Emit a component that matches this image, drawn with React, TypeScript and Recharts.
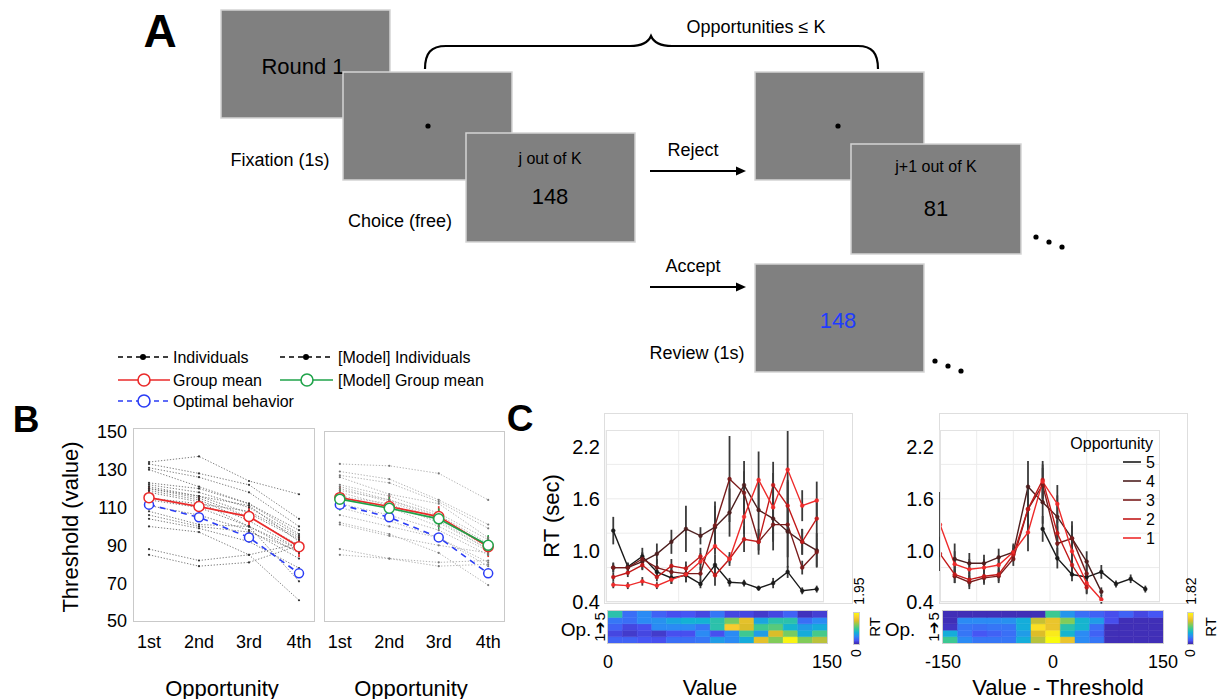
import React from 'react';
import { LineChart, Line, XAxis, YAxis, ErrorBar, CartesianGrid, ComposedChart, ReferenceArea } from 'recharts';

const FONT = '"Liberation Sans", Arial, Helvetica, sans-serif';

// ---------------- Panel B data ----------------
const opportunityPositions = [1, 2, 3, 4];
const opportunityLabels = ['1st', '2nd', '3rd', '4th'];
const thresholdTicks = [50, 70, 90, 110, 130, 150];

const individualThresholds: number[][] = [
  [134, 137, 124, 117],
  [133, 128, 122, 104],
  [131, 126, 118, 100],
  [130, 121, 112, 98],
  [123, 120, 112, 96],
  [122, 118, 110, 95],
  [121, 116, 107, 93],
  [120, 115, 105, 90],
  [119, 114, 103, 88],
  [118, 113, 100, 86],
  [114, 110, 100, 88],
  [111, 106, 98, 83],
  [108, 101, 100, 71],
  [106, 100, 97, 87],
  [104, 99, 92, 78],
  [100, 97, 85, 61],
  [88, 82, 85, 91],
  [85, 79, 81, 90],
  [120, 116, 111, 92],
  [115, 112, 108, 94],
];
const groupMean = [115.2, 110.5, 105.2, 89.3];
const groupMeanErr = [6, 6, 5.5, 5.5];
const optimalThreshold = [111.5, 104.8, 94.2, 75.2];

const modelIndividualThresholds: number[][] = [
  [133, 132, 128, 114],
  [129, 125, 114, 101],
  [127, 123, 113, 99],
  [126, 117, 112, 94],
  [122, 116, 107, 93],
  [121, 114, 106, 91],
  [120, 113, 104, 89],
  [118, 111, 103, 88],
  [115, 110, 100, 87],
  [112, 106, 98, 85],
  [110, 103, 94, 81],
  [106, 100, 94, 79],
  [102, 96, 86, 69],
  [101, 95, 90, 86],
  [88, 83, 81, 82],
  [85, 83, 79, 80],
  [119, 114, 105, 90],
  [116, 112, 102, 88],
];
const modelGroupMean = [114.4, 109.6, 104.0, 90.0];
const modelGroupMeanErr = [6, 6, 5.5, 5.5];

// ---------------- Panel C data (RT by value) ----------------
const rtTicks = [0.4, 1.0, 1.6, 2.2];
const rtGrid = [0.4, 0.6, 0.8, 1.0, 1.2, 1.4, 1.6, 1.8, 2.0, 2.2, 2.4];
const valueBins = [5, 15, 25, 35, 45, 55, 65, 75, 85, 95, 105, 115, 125, 135, 145];
const rtValueOpp5 = [1.23, 0.81, 0.93, 0.75, 0.68, 0.71, 0.61, 0.83, 0.63, 0.62, 0.56, 0.62, 0.75, 0.53, 0.55];
const errValueOpp5 = [0.16, 0.05, 0.1, 0.08, 0.07, 0.08, 0.05, 0.12, 0.05, 0.04, 0.03, 0.06, 0.07, 0.04, 0.04];
const rtValueOpp4 = [0.8, 0.8, 0.87, 0.96, 1.1, 1.25, 1.17, 1.27, 1.44, 1.76, 1.47, 1.37, 1.22, 1.1, 1.0];
const errValueOpp4 = [0.05, 0.05, 0.1, 0.12, 0.14, 0.27, 0.1, 0.25, 0.28, 0.28, 0.3, 0.25, 0.3, 0.15, 0.2];
const rtValueOpp3 = [0.8, 0.8, 0.9, 0.8, 0.75, 0.73, 0.73, 1.29, 1.83, 1.67, 1.1, 1.3, 1.3, 0.8, 0.98];
const errValueOpp3 = [0.06, 0.05, 0.08, 0.1, 0.08, 0.1, 0.08, 0.28, 0.5, 0.25, 0.15, 0.3, 0.5, 0.08, 0.17];
const rtValueOpp2 = [0.69, 0.74, 0.83, 0.69, 0.82, 0.79, 0.93, 0.71, 0.9, 1.13, 1.1, 1.76, 1.52, 1.1, 1.37];
const errValueOpp2 = [0.05, 0.05, 0.05, 0.05, 0.08, 0.08, 0.1, 0.12, 0.08, 0.15, 0.1, 0.27, 0.3, 0.15, 0.22];
const rtValueOpp1 = [0.6, 0.59, 0.64, 0.59, 0.66, 0.72, 0.87, 1.05, 0.9, 1.39, 1.82, 1.5, 1.94, 1.52, 1.58];
const errValueOpp1 = [0.04, 0.04, 0.05, 0.04, 0.05, 0.06, 0.1, 0.1, 0.05, 0.2, 0.33, 0.4, 0.45, 0.18, 0.22];

// ---------------- Panel C data (RT by value - threshold) ----------------
const diffBins = [-150, -130, -110, -90, -70, -50, -30, -10, 10, 30, 50, 70, 90, 110, 130];
const N = null;
const rtDiffOpp5 = [N, N, N, N, N, N, N, 1.25, 0.91, 0.72, 0.69, 0.75, 0.61, 0.67, 0.55];
const errDiffOpp5 = [N, N, N, N, N, N, N, 0.15, 0.12, 0.08, 0.06, 0.08, 0.04, 0.05, 0.04];
const rtDiffOpp4 = [N, 0.9, 0.85, 0.85, 0.92, 0.98, 1.74, 1.56, 1.39, 1.14, 0.87, 0.52, N, N, N];
const errDiffOpp4 = [N, 0.18, 0.12, 0.1, 0.1, 0.08, 0.3, 0.25, 0.25, 0.2, 0.12, 0.05, N, N, N];
const rtDiffOpp3 = [N, 0.7, 0.63, 0.68, 0.7, 0.9, 1.48, 1.76, 1.08, 1.14, 0.73, N, N, N, N];
const errDiffOpp3 = [N, 0.08, 0.08, 0.08, 0.08, 0.08, 0.2, 0.2, 0.2, 0.15, 0.1, N, N, N, N];
const rtDiffOpp2 = [0.96, 0.72, 0.66, 0.7, 0.72, 0.95, 1.48, 1.82, 1.2, 0.83, 0.57, N, N, N, N];
const errDiffOpp2 = [0.2, 0.1, 0.08, 0.08, 0.08, 0.08, 0.25, 0.22, 0.15, 0.12, 0.08, N, N, N, N];
const rtDiffOpp1 = [1.3, 0.84, 0.78, 0.8, 0.83, 0.98, 1.21, 1.8, 1.54, 0.99, 0.62, 0.43, N, N, N];
const errDiffOpp1 = [0.38, 0.15, 0.12, 0.1, 0.1, 0.1, 0.22, 0.2, 0.22, 0.2, 0.12, 0.05, N, N, N];

// ---------------- Heatmaps (mean RT, rows = opportunity 1..5) ----------------
const valueEdges = [0, 10, 20, 30, 40, 50, 60, 70, 80, 90, 100, 110, 120, 130, 140, 150];
const heatValueMax = 1.95;
const heatValueOpp1 = [0.29, 0.29, 0.23, 0.2, 0.35, 0.35, 0.39, 0.59, 0.49, 0.68, 1.52, 1.21, 1.91, 1.21, 1.37];
const heatValueOpp2 = [0.16, 0.1, 0.16, 0.1, 0.2, 0.2, 0.49, 0.2, 0.49, 0.98, 0.59, 1.46, 1.17, 0.68, 1.01];
const heatValueOpp3 = [0.29, 0.16, 0.2, 0.49, 0.49, 0.49, 0.39, 0.88, 1.66, 1.46, 0.98, 1.07, 0.74, 0.59, 0.68];
const heatValueOpp4 = [0.39, 0.35, 0.49, 0.53, 0.64, 0.72, 0.72, 0.88, 1.17, 1.52, 0.64, 0.88, 0.88, 0.35, 0.49];
const heatValueOpp5 = [0.88, 0.35, 0.49, 0.29, 0.2, 0.23, 0.16, 0.39, 0.16, 0.16, 0.1, 0.16, 0.29, 0.06, 0.12];

const diffEdges = [-150, -130, -110, -90, -70, -50, -30, -10, 10, 30, 50, 70, 90, 110, 130, 150];
const heatDiffMax = 1.82;
const heatDiffOpp1 = [0.91, 0.46, 0.36, 0.36, 0.36, 0.64, 1.27, 1.82, 1.46, 0.46, 0.36, 0.04, 0.04, 0.04, 0.04];
const heatDiffOpp2 = [0.64, 0.36, 0.22, 0.27, 0.33, 0.55, 1.37, 1.73, 0.69, 0.46, 0.27, 0.04, 0.04, 0.04, 0.04];
const heatDiffOpp3 = [0.07, 0.36, 0.33, 0.36, 0.36, 0.64, 1.67, 1.46, 0.82, 0.69, 0.33, 0.04, 0.04, 0.04, 0.04];
const heatDiffOpp4 = [0.04, 0.46, 0.46, 0.46, 0.49, 0.64, 1.31, 1.46, 1.13, 0.69, 0.55, 0.18, 0.04, 0.04, 0.04];
const heatDiffOpp5 = [0.04, 0.04, 0.04, 0.04, 0.04, 0.04, 0.04, 0.91, 0.51, 0.33, 0.27, 0.18, 0.27, 0.15, 0.22];

const oppColors = ['#ee2b2b', '#c21a1a', '#7a1c1c', '#4d1f1f', '#1a1a1a']; // opportunity 1..5

// ---------------- helpers ----------------
type Pt = { x: number; y: number; e: number };
const toPts = (xs: number[], ys: (number | null)[], es?: (number | null)[]): Pt[] =>
  xs
    .map((x, i) => ({ x, y: ys[i] as number, e: es ? ((es[i] ?? 0) as number) : 0 }))
    .filter((p) => p.y !== null && p.y !== undefined);

const parulaStops: [number, number[]][] = [
  [0, [62, 38, 168]],
  [0.11, [72, 82, 244]],
  [0.24, [46, 135, 247]],
  [0.365, [18, 177, 214]],
  [0.49, [55, 200, 151]],
  [0.62, [129, 204, 89]],
  [0.75, [220, 189, 41]],
  [0.87, [252, 207, 48]],
  [1, [249, 251, 14]],
];
const parula = (t: number) => {
  const v = Math.max(0, Math.min(1, t));
  for (let i = 1; i < parulaStops.length; i++) {
    const [t1, c1] = parulaStops[i];
    const [t0, c0] = parulaStops[i - 1];
    if (v <= t1) {
      const f = (v - t0) / (t1 - t0);
      const c = c0.map((a, k) => Math.round(a + (c1[k] - a) * f));
      return `rgb(${c[0]},${c[1]},${c[2]})`;
    }
  }
  return 'rgb(249,251,14)';
};
const parulaGradient = `linear-gradient(to top, ${parulaStops
  .map(([t, c]) => `rgb(${c[0]},${c[1]},${c[2]}) ${t * 100}%`)
  .join(', ')})`;

const tickStyle = (size: number) => ({ fontSize: size, fill: '#000', fontFamily: FONT });

// ---------------- Panel B chart ----------------
function ThresholdChart(props: {
  plotLeft: number;
  plotTop: number;
  plotW: number;
  plotH: number;
  yDomain: [number, number];
  xDomain: [number, number];
  showYLabels: boolean;
  individuals: number[][];
  indColor: string;
  indDot: string;
  model: boolean;
}) {
  const yw = 60;
  const xh = 40;
  const pad = 12;
  const { plotLeft, plotTop, plotW, plotH } = props;
  return (
    <div style={{ position: 'absolute', left: plotLeft - yw, top: plotTop - pad }}>
      <LineChart width={plotW + yw + pad} height={plotH + xh + pad} margin={{ top: pad, right: pad, bottom: 0, left: 0 }}>
        <XAxis
          type="number"
          dataKey="x"
          domain={props.xDomain}
          ticks={opportunityPositions}
          interval={0}
          tickFormatter={(v: number) => opportunityLabels[v - 1]}
          allowDataOverflow
          height={xh}
          tickLine={false}
          axisLine={false}
          tickSize={0}
          tickMargin={13}
          tick={tickStyle(18)}
        />
        <YAxis
          type="number"
          domain={props.yDomain}
          ticks={thresholdTicks}
          allowDataOverflow
          width={yw}
          tickLine={false}
          axisLine={false}
          tickSize={0}
          tickMargin={6}
          tick={props.showYLabels ? tickStyle(18) : false}
        />
        {props.individuals.map((row, i) => (
          <Line
            key={'ind' + i}
            data={toPts(opportunityPositions, row)}
            dataKey="y"
            stroke={props.indColor}
            strokeWidth={0.9}
            strokeDasharray="1.3 1.7"
            dot={{ r: 1.1, fill: props.indDot, stroke: 'none' }}
            isAnimationActive={false}
          />
        ))}
        <Line
          data={toPts(opportunityPositions, optimalThreshold)}
          dataKey="y"
          stroke="#2a3cf5"
          strokeWidth={1.6}
          strokeDasharray="6 5"
          dot={{ r: 4.5, fill: '#fff', stroke: '#2a3cf5', strokeWidth: 1.5, strokeDasharray: '' }}
          isAnimationActive={false}
        />
        <Line
          data={toPts(opportunityPositions, groupMean, groupMeanErr)}
          dataKey="y"
          stroke="#ea2a2a"
          strokeWidth={1.7}
          dot={{ r: 5, fill: '#fff', stroke: '#ea2a2a', strokeWidth: 1.5 }}
          isAnimationActive={false}
        >
          <ErrorBar dataKey="e" direction="y" width={0} stroke="#ea2a2a" strokeWidth={1.7} />
        </Line>
        {props.model && (
          <Line
            data={toPts(opportunityPositions, modelGroupMean, modelGroupMeanErr)}
            dataKey="y"
            stroke="#1fa34a"
            strokeWidth={1.7}
            dot={{ r: 5, fill: '#fff', stroke: '#1fa34a', strokeWidth: 1.5 }}
            isAnimationActive={false}
          >
            <ErrorBar dataKey="e" direction="y" width={0} stroke="#1fa34a" strokeWidth={1.5} />
          </Line>
        )}
      </LineChart>
      <div
        style={{
          position: 'absolute',
          left: yw,
          top: pad,
          width: plotW,
          height: plotH,
          border: '1px solid #c9c9c9',
          boxSizing: 'border-box',
          pointerEvents: 'none',
        }}
      />
    </div>
  );
}

// ---------------- Panel C line chart ----------------
type RTSeries = { name: string; pts: Pt[]; color: string };
function RTChart(props: {
  plotLeft: number;
  plotTop: number;
  plotW: number;
  plotH: number;
  xDomain: [number, number];
  gridX: number[];
  series: RTSeries[];
}) {
  const yw = 52;
  const pad = 14;
  const { plotLeft, plotTop, plotW, plotH } = props;
  return (
    <div style={{ position: 'absolute', left: plotLeft - yw, top: plotTop }}>
      <LineChart width={plotW + yw} height={plotH + pad} margin={{ top: 0, right: 0, bottom: pad, left: 0 }}>
        <CartesianGrid stroke="#ececec" horizontalValues={rtGrid} verticalValues={props.gridX} />
        <XAxis type="number" dataKey="x" domain={props.xDomain} allowDataOverflow hide />
        <YAxis
          type="number"
          domain={[0.4, 2.4]}
          ticks={rtTicks}
          allowDataOverflow
          width={yw}
          tickLine={false}
          axisLine={false}
          tickSize={0}
          tickMargin={6}
          tickFormatter={(v: number) => v.toFixed(1)}
          tick={tickStyle(20)}
        />
        {props.series.map((s) => (
          <Line
            key={s.name}
            data={s.pts}
            dataKey="y"
            stroke={s.color}
            strokeWidth={1.4}
            dot={{ r: 1.9, fill: s.color, stroke: s.color, strokeWidth: 0.5 }}
            isAnimationActive={false}
          >
            <ErrorBar dataKey="e" direction="y" width={0} stroke="#3a3a3a" strokeWidth={1.8} />
          </Line>
        ))}
      </LineChart>
      <div
        style={{
          position: 'absolute',
          left: yw,
          top: 0,
          width: plotW,
          height: plotH,
          border: '1px solid #e2e2e2',
          boxSizing: 'border-box',
          pointerEvents: 'none',
        }}
      />
    </div>
  );
}

// ---------------- Panel C heatmap ----------------
function Heatmap(props: {
  left: number;
  top: number;
  w: number;
  h: number;
  edges: number[];
  rows: number[][];
  max: number;
  ticks: number[];
}) {
  const xh = 32;
  const side = 30;
  const { edges } = props;
  const centers = edges.slice(0, -1).map((e, i) => ({ x: (e + edges[i + 1]) / 2, y: 2.5 }));
  return (
    <div style={{ position: 'absolute', left: props.left - side, top: props.top }}>
      <ComposedChart
        width={props.w + 2 * side}
        height={props.h + xh}
        data={centers}
        margin={{ top: 0, right: side, bottom: 0, left: side }}
      >
        <XAxis
          type="number"
          dataKey="x"
          domain={[edges[0], edges[edges.length - 1]]}
          ticks={props.ticks}
          interval={0}
          allowDataOverflow
          height={xh}
          tickLine={false}
          axisLine={false}
          tickSize={0}
          tickMargin={12}
          tick={tickStyle(18)}
        />
        <YAxis type="number" domain={[0, 5]} allowDataOverflow hide />
        {props.rows.map((row, r) =>
          row.map((v, c) => (
            <ReferenceArea
              key={`c${r}-${c}`}
              x1={edges[c]}
              x2={edges[c + 1]}
              y1={r}
              y2={r + 1}
              fill={parula(v / props.max)}
              fillOpacity={1}
              stroke={parula(v / props.max)}
              strokeWidth={0.5}
              ifOverflow="visible"
            />
          ))
        )}
        <Line dataKey="y" stroke="none" dot={false} isAnimationActive={false} legendType="none" />
      </ComposedChart>
      <div
        style={{
          position: 'absolute',
          left: side - 1,
          top: -1,
          width: props.w + 2,
          height: props.h + 2,
          border: '1px solid #cfcfcf',
          boxSizing: 'border-box',
          pointerEvents: 'none',
        }}
      />
    </div>
  );
}

// ---------------- overlay helpers ----------------
const T = (p: {
  x: number;
  y: number;
  s: number;
  children: React.ReactNode;
  anchor?: 'start' | 'middle' | 'end';
  rot?: boolean;
  bold?: boolean;
  fill?: string;
}) => (
  <text
    x={p.rot ? 0 : p.x}
    y={p.rot ? 0 : p.y}
    transform={p.rot ? `translate(${p.x},${p.y}) rotate(-90)` : undefined}
    fontSize={p.s}
    fontFamily={FONT}
    fontWeight={p.bold ? 'bold' : 'normal'}
    textAnchor={p.anchor || 'middle'}
    dominantBaseline="central"
    fill={p.fill || '#000'}
  >
    {p.children}
  </text>
);

const Box = (p: { x: number; y: number; w: number; h: number }) => (
  <rect x={p.x} y={p.y} width={p.w} height={p.h} fill="#808080" stroke="#d4d4d4" strokeWidth={1.5} />
);

const Arrow = (p: { x1: number; x2: number; y: number }) => (
  <g>
    <line x1={p.x1} y1={p.y} x2={p.x2 - 8} y2={p.y} stroke="#000" strokeWidth={2.2} />
    <polygon points={`${p.x2},${p.y} ${p.x2 - 10},${p.y - 4.5} ${p.x2 - 10},${p.y + 4.5}`} fill="#000" />
  </g>
);

const Dots3 = (p: { x: number; y: number }) => (
  <g fill="#000">
    <circle cx={p.x} cy={p.y} r={2.6} />
    <circle cx={p.x + 13} cy={p.y + 5} r={2.6} />
    <circle cx={p.x + 26} cy={p.y + 10} r={2.6} />
  </g>
);

export default function App() {
  const valueSeries: RTSeries[] = [
    { name: '5', pts: toPts(valueBins, rtValueOpp5, errValueOpp5), color: oppColors[4] },
    { name: '4', pts: toPts(valueBins, rtValueOpp4, errValueOpp4), color: oppColors[3] },
    { name: '3', pts: toPts(valueBins, rtValueOpp3, errValueOpp3), color: oppColors[2] },
    { name: '2', pts: toPts(valueBins, rtValueOpp2, errValueOpp2), color: oppColors[1] },
    { name: '1', pts: toPts(valueBins, rtValueOpp1, errValueOpp1), color: oppColors[0] },
  ];
  const diffSeries: RTSeries[] = [
    { name: '5', pts: toPts(diffBins, rtDiffOpp5, errDiffOpp5), color: oppColors[4] },
    { name: '4', pts: toPts(diffBins, rtDiffOpp4, errDiffOpp4), color: oppColors[3] },
    { name: '3', pts: toPts(diffBins, rtDiffOpp3, errDiffOpp3), color: oppColors[2] },
    { name: '2', pts: toPts(diffBins, rtDiffOpp2, errDiffOpp2), color: oppColors[1] },
    { name: '1', pts: toPts(diffBins, rtDiffOpp1, errDiffOpp1), color: oppColors[0] },
  ];
  const legendRows = [5, 4, 3, 2, 1];

  return (
    <div
      style={{
        position: 'absolute',
        left: 0,
        top: 0,
        width: 1222,
        height: 699,
        background: '#fff',
        overflow: 'hidden',
        fontFamily: FONT,
      }}
    >
      {/* Panel B */}
      <ThresholdChart
        plotLeft={133}
        plotTop={428}
        plotW={182}
        plotH={194}
        yDomain={[49.5, 152]}
        xDomain={[0.68, 4.32]}
        showYLabels
        individuals={individualThresholds}
        indColor="#6e6e6e"
        indDot="#333"
        model={false}
      />
      <ThresholdChart
        plotLeft={324}
        plotTop={431}
        plotW={181}
        plotH={191}
        yDomain={[49.5, 150.4]}
        xDomain={[0.68, 4.34]}
        showYLabels={false}
        individuals={modelIndividualThresholds}
        indColor="#a9a9a9"
        indDot="#777"
        model
      />

      {/* Panel C frames */}
      <div style={{ position: 'absolute', left: 604, top: 413, width: 249, height: 191, border: '1px solid #dedede', boxSizing: 'border-box' }} />
      <div style={{ position: 'absolute', left: 939, top: 413, width: 249, height: 191, border: '1px solid #dedede', boxSizing: 'border-box' }} />

      <RTChart plotLeft={606} plotTop={430} plotW={218} plotH={172} xDomain={[0, 150]} gridX={[0, 50, 100, 150]} series={valueSeries} />
      <RTChart plotLeft={940} plotTop={430} plotW={220} plotH={172} xDomain={[-150, 150]} gridX={[-150, -100, -50, 0, 50, 100, 150]} series={diffSeries} />

      <Heatmap
        left={608}
        top={611}
        w={219}
        h={32}
        edges={valueEdges}
        rows={[heatValueOpp1, heatValueOpp2, heatValueOpp3, heatValueOpp4, heatValueOpp5]}
        max={heatValueMax}
        ticks={[0, 150]}
      />
      <Heatmap
        left={943}
        top={611}
        w={220}
        h={32}
        edges={diffEdges}
        rows={[heatDiffOpp1, heatDiffOpp2, heatDiffOpp3, heatDiffOpp4, heatDiffOpp5]}
        max={heatDiffMax}
        ticks={[-150, 0, 150]}
      />
      {/* colorbars */}
      <div style={{ position: 'absolute', left: 853, top: 612, width: 5, height: 31, background: parulaGradient, border: '1px solid #ccc' }} />
      <div style={{ position: 'absolute', left: 1187, top: 612, width: 5, height: 31, background: parulaGradient, border: '1px solid #ccc' }} />

      {/* overlay text & diagram */}
      <svg width={1222} height={699} style={{ position: 'absolute', left: 0, top: 0, pointerEvents: 'none' }}>
        {/* Panel A */}
        <T x={160} y={31} s={46} bold>A</T>
        <Box x={221} y={10} w={169} h={108} />
        <T x={303} y={66} s={22}>Round 1</T>
        <Box x={343} y={72} w={169} h={108} />
        <circle cx={428} cy={126} r={2.6} fill="#000" />
        <T x={280} y={160} s={18}>Fixation (1s)</T>
        <Box x={466} y={133} w={169} h={109} />
        <T x={550} y={158} s={16}>j out of K</T>
        <T x={550} y={196} s={22}>148</T>
        <T x={400} y={221} s={18}>Choice (free)</T>
        <path
          d="M425,69 C425,53 431,46 446,46 L630,46 C642,46 648,43 651,36 C654,43 660,46 672,46 L858,46 C872,46 878,53 878,69"
          fill="none"
          stroke="#000"
          strokeWidth={2.2}
        />
        <T x={756} y={27} s={18}>Opportunities ≤ K</T>
        <T x={693} y={150} s={18}>Reject</T>
        <Arrow x1={650} x2={746} y={171} />
        <Box x={755} y={72} w={169} h={108} />
        <circle cx={838} cy={126} r={2.6} fill="#000" />
        <Box x={851} y={144} w={170} h={110} />
        <T x={936} y={166} s={16}>j+1 out of K</T>
        <T x={936} y={208} s={22}>81</T>
        <Dots3 x={1036} y={237} />
        <T x={693} y={266} s={18}>Accept</T>
        <Arrow x1={650} x2={746} y={287} />
        <Box x={755} y={264} w={169} h={108} />
        <T x={838} y={320} s={22} fill="#1f3cff">148</T>
        <T x={697} y={353} s={18}>Review (1s)</T>
        <Dots3 x={935} y={361} />

        {/* Panel B legend */}
        <line x1={118} y1={357} x2={168} y2={357} stroke="#000" strokeWidth={1.3} strokeDasharray="5 4" />
        <circle cx={143} cy={357} r={3} fill="#000" />
        <T x={173} y={357} s={16} anchor="start">Individuals</T>
        <line x1={280} y1={357} x2={332} y2={357} stroke="#000" strokeWidth={1.3} strokeDasharray="5 4" />
        <circle cx={306} cy={357} r={3} fill="#000" />
        <T x={338} y={357} s={16} anchor="start">[Model] Individuals</T>
        <line x1={118} y1={380} x2={170} y2={380} stroke="#ea2a2a" strokeWidth={1.6} />
        <circle cx={144} cy={380} r={6} fill="#fff" stroke="#ea2a2a" strokeWidth={1.6} />
        <T x={173} y={380} s={16} anchor="start">Group mean</T>
        <line x1={280} y1={380} x2={333} y2={380} stroke="#1fa34a" strokeWidth={1.6} />
        <circle cx={307} cy={380} r={6} fill="#fff" stroke="#1fa34a" strokeWidth={1.6} />
        <T x={338} y={380} s={16} anchor="start">[Model] Group mean</T>
        <line x1={118} y1={401} x2={170} y2={401} stroke="#2a3cf5" strokeWidth={1.6} strokeDasharray="5 4" />
        <circle cx={144} cy={401} r={6} fill="#fff" stroke="#2a3cf5" strokeWidth={1.6} />
        <T x={173} y={401} s={16} anchor="start">Optimal behavior</T>

        <T x={26} y={419} s={37} bold>B</T>
        <T x={70} y={527} s={22} rot>Threshold (value)</T>
        <T x={222} y={688} s={22}>Opportunity</T>
        <T x={411} y={688} s={22}>Opportunity</T>

        {/* Panel C */}
        <T x={520} y={418} s={37} bold>C</T>
        <T x={551} y={516} s={22} rot>RT (sec)</T>
        <T x={576} y={629} s={19}>Op.</T>
        <T x={599} y={627} s={15} rot>1➔5</T>
        <T x={900} y={629} s={19}>Op.</T>
        <T x={933} y={627} s={15} rot>1➔5</T>
        <T x={710} y={687} s={22}>Value</T>
        <T x={1058} y={687} s={22}>Value - Threshold</T>
        <T x={859} y={591} s={14} rot>1.95</T>
        <T x={856} y={653} s={14} rot>0</T>
        <T x={874} y={627} s={15} rot>RT</T>
        <T x={1191} y={591} s={14} rot>1.82</T>
        <T x={1190} y={653} s={14} rot>0</T>
        <T x={1210} y={627} s={15} rot>RT</T>

        {/* Panel C legend */}
        <T x={1153} y={443} s={16} anchor="end">Opportunity</T>
        {legendRows.map((o, i) => (
          <g key={o}>
            <line x1={1123} y1={462 + i * 19} x2={1141} y2={462 + i * 19} stroke={oppColors[o - 1]} strokeWidth={1.6} />
            <T x={1146} y={462 + i * 19} s={16} anchor="start">{String(o)}</T>
          </g>
        ))}
      </svg>
    </div>
  );
}
